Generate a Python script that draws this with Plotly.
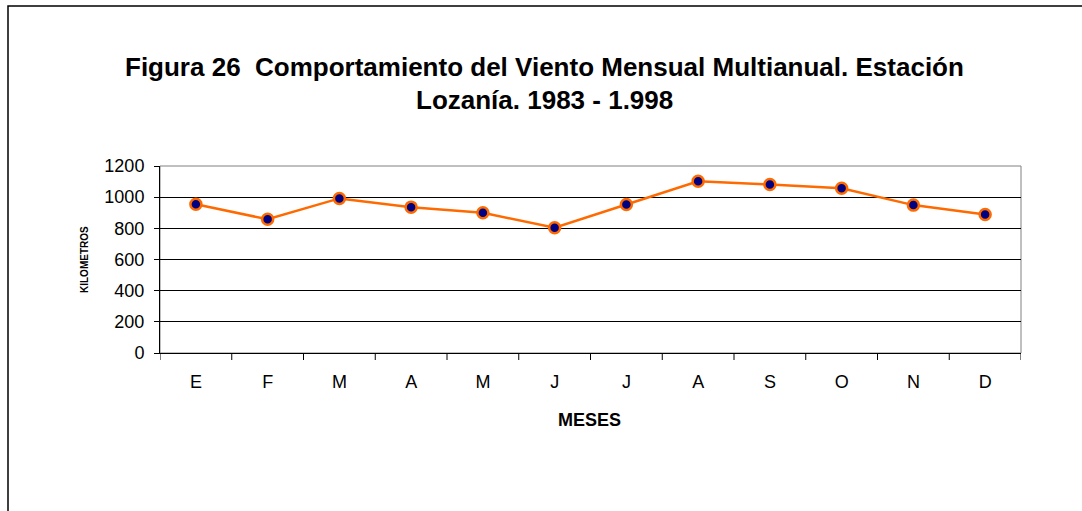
import plotly.graph_objects as go

meses = ["E", "F", "M", "A", "M", "J", "J", "A", "S", "O", "N", "D"]
viento_km = [955, 858, 992, 936, 900, 804, 953, 1102, 1081, 1057, 949, 889]
y_ticks = [0, 200, 400, 600, 800, 1000, 1200]

x_idx = list(range(len(meses)))

W, H = 1082, 511
L, R, T, B = 160, 61, 166, 158
pw = W - L - R
ph = H - T - B

def px(x):
    return (x - L) / pw

def py(y):
    return (H - B - y) / ph

fig = go.Figure()
fig.add_trace(go.Scatter(
    x=x_idx, y=viento_km, mode="lines+markers",
    line=dict(color="#FF6A00", width=2.5),
    marker=dict(size=11, color="#000080", line=dict(color="#FF6A00", width=2.5)),
    showlegend=False,
))

fig.update_layout(
    width=W, height=H,
    margin=dict(l=L, r=R, t=T, b=B),
    paper_bgcolor="white", plot_bgcolor="white",
    font=dict(family="Liberation Sans, Arial, sans-serif", color="black"),
    xaxis=dict(
        range=[-0.5, 11.5],
        tickmode="array", tickvals=x_idx, ticktext=meses,
        showgrid=False, zeroline=False,
        showline=True, linecolor="black", linewidth=1,
        tickfont=dict(size=18, color="black"),
        ticks="", ticklabelstandoff=12,
        fixedrange=True,
    ),
    yaxis=dict(
        range=[0, 1200], tickmode="array", tickvals=y_ticks,
        ticktext=[str(v) for v in y_ticks],
        showgrid=True, gridcolor="black", gridwidth=1,
        zeroline=False, showline=True, linecolor="black", linewidth=1,
        ticks="outside", ticklen=5, tickcolor="black",
        ticklabelstandoff=6,
        tickfont=dict(size=18, color="black"),
        fixedrange=True,
    ),
    shapes=[
        dict(type="rect", xref="paper", yref="paper", x0=0, y0=0, x1=1, y1=1,
             line=dict(color="#808080", width=1), layer="below"),
        dict(type="rect", xref="paper", yref="paper",
             x0=px(8), y0=py(6), x1=px(1100), y1=py(540),
             line=dict(color="black", width=1.5), layer="below"),
    ] + [
        dict(type="line", xref="x", yref="paper",
             x0=i - 0.5, x1=i - 0.5, y0=0, y1=-7 / ph,
             line=dict(color="black", width=1))
        for i in range(len(meses) + 1)
    ],
    annotations=[
        dict(text="<b>Figura 26  Comportamiento del Viento Mensual Multianual. Estación</b>",
             xref="paper", yref="paper", x=px(544), y=py(67),
             xanchor="center", yanchor="middle", showarrow=False,
             font=dict(size=26, color="black")),
        dict(text="<b>Lozanía. 1983 - 1.998</b>",
             xref="paper", yref="paper", x=px(544), y=py(100),
             xanchor="center", yanchor="middle", showarrow=False,
             font=dict(size=26, color="black")),
        dict(text="<b>MESES</b>",
             xref="paper", yref="paper", x=px(589), y=py(420),
             xanchor="center", yanchor="middle", showarrow=False,
             font=dict(size=18, color="black")),
        dict(text="<b>KILOMETROS</b>", textangle=-90,
             xref="paper", yref="paper", x=px(84), y=py(260),
             xanchor="center", yanchor="middle", showarrow=False,
             font=dict(size=10, color="black")),
    ],
)

fig.write_html(
    "out.html",
    config={"displayModeBar": False},
    post_script="document.body.style.margin='0';document.body.style.overflow='hidden';",
)
